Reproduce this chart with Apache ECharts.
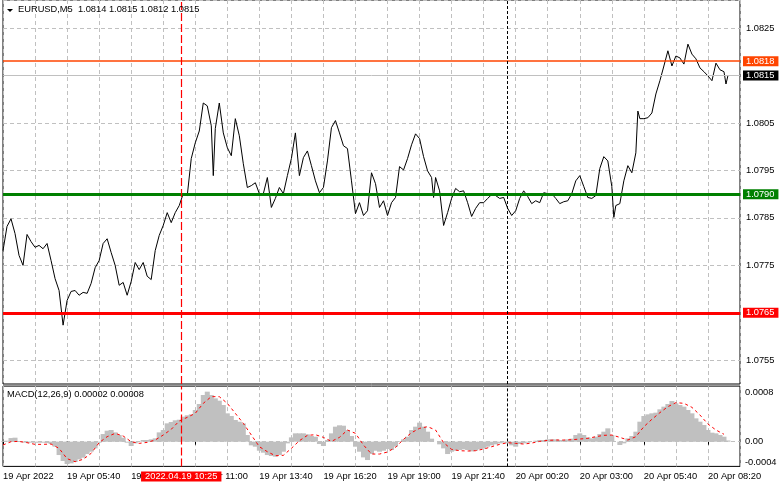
<!DOCTYPE html>
<html><head><meta charset="utf-8">
<script src="https://cdn.jsdelivr.net/npm/echarts@6/dist/echarts.min.js"></script>
<style>html,body{margin:0;padding:0;background:#fff}#c{width:781px;height:489px}</style>
</head><body><div id="c"></div>
<script>
// ---- data ----
const symbolTitle = 'EURUSD,M5  1.0814 1.0815 1.0812 1.0815';
const macdTitle = 'MACD(12,26,9) 0.00002 0.00008';
const barCount = 369;              // 5-minute bars, 19 Apr 03:00 ...
const closeStep = 2;               // closes read every 2 bars (10 min)
const closes = [
1.07781,1.07832,1.07848,1.07817,1.07771,1.07750,1.07815,1.07800,1.07788,1.07792,
1.07785,1.07796,1.07760,1.07722,1.07697,1.07624,1.07676,1.07695,1.07697,1.07687,
1.07693,1.07691,1.07712,1.07745,1.07760,1.07796,1.07806,1.07777,1.07750,1.07708,
1.07714,1.07687,1.07716,1.07756,1.07741,1.07756,1.07727,1.07720,1.07781,1.07813,
1.07834,1.07861,1.07840,1.07861,1.07876,1.07901,1.07897,1.07975,1.08008,1.08033,
1.08092,1.08086,1.08044,1.08038,1.08092,1.08029,1.07998,1.07981,1.08059,1.08023,
1.07964,1.07914,1.07918,1.07924,1.07901,1.07901,1.07935,1.07872,1.07891,1.07914,
1.07901,1.07939,1.07975,1.08029,1.07939,1.07977,1.07991,1.07960,1.07928,1.07903,
1.07914,1.07970,1.08040,1.08055,1.08029,1.08002,1.07996,1.07928,1.07859,1.07882,
1.07855,1.07865,1.07945,1.07922,1.07872,1.07886,1.07855,1.07882,1.07893,1.07958,
1.07951,1.07975,1.08004,1.08027,1.08017,1.07979,1.07949,1.07935,1.07935,1.07907,
1.07834,1.07861,1.07891,1.07912,1.07905,1.07907,1.07882,1.07853,1.07870,1.07882,
1.07882,1.07891,1.07899,1.07897,1.07891,1.07893,1.07870,1.07855,1.07865,1.07891,
1.07907,1.07895,1.07880,1.07886,1.07882,1.07903,1.07901,1.07901,1.07891,1.07880,
1.07884,1.07886,1.07901,1.07928,1.07939,1.07916,1.07893,1.07891,1.07897,1.07954,
1.07979,1.07970,1.07916,1.07876,1.07880,1.07928,1.07960,1.07945,1.07987,1.08059,
1.08059,1.08061,1.08071,1.08111,1.08139,1.08170,1.08202,1.08170,1.08191,1.08187,
1.08174,1.08216,1.08195,1.08185,1.08166,1.08158,1.08149,1.08139,1.08176,1.08162,
1.08158,1.08150];
// single-bar spikes read between the 10-minute samples: [bar index, close]
const closeSpikes = [[105, 1.07939], [215, 1.07893], [305, 1.07851], [317, 1.08075], [361, 1.08132]];
const histStep = 2;
const macdHist = [
0.000011,0.000016,0.000059,0.000065,0.000011,-0.000011,-0.000016,-0.000016,-0.000016,-0.000016,
-0.000016,-0.000022,-0.000038,-0.000081,-0.000216,-0.000313,-0.000362,-0.000351,-0.000329,-0.000286,
-0.000259,-0.000200,-0.000162,-0.000108,-0.000016,0.000124,0.000178,0.000189,0.000151,0.000108,
0.000065,-0.000016,-0.000070,-0.000027,-0.000005,0.000027,0.000027,0.000038,0.000054,0.000151,
0.000189,0.000297,0.000319,0.000346,0.000356,0.000405,0.000427,0.000443,0.000513,0.000610,
0.000756,0.000810,0.000756,0.000702,0.000664,0.000594,0.000459,0.000416,0.000351,0.000324,
0.000297,0.000108,-0.000059,-0.000081,-0.000146,-0.000178,-0.000216,-0.000232,-0.000243,-0.000216,
-0.000162,-0.000027,0.000070,0.000135,0.000135,0.000135,0.000119,0.000092,0.000081,-0.000038,
-0.000070,0.000027,0.000135,0.000243,0.000265,0.000259,0.000189,0.000092,-0.000081,-0.000162,
-0.000254,-0.000297,-0.000200,-0.000146,-0.000162,-0.000146,-0.000119,-0.000135,-0.000081,0.000011,
0.000038,0.000081,0.000189,0.000243,0.000308,0.000243,0.000162,0.000049,0.000000,-0.000043,
-0.000108,-0.000200,-0.000162,-0.000146,-0.000135,-0.000124,-0.000135,-0.000157,-0.000146,-0.000124,
-0.000113,-0.000081,-0.000059,-0.000043,-0.000027,-0.000016,-0.000027,-0.000059,-0.000081,-0.000038,
-0.000027,-0.000016,0.000000,0.000016,0.000027,0.000027,0.000038,0.000038,0.000038,0.000027,
0.000027,0.000038,0.000049,0.000108,0.000135,0.000108,0.000070,0.000054,0.000081,0.000124,
0.000162,0.000216,0.000108,0.000000,-0.000054,-0.000027,0.000054,0.000092,0.000162,0.000324,
0.000416,0.000443,0.000459,0.000470,0.000524,0.000567,0.000610,0.000659,0.000621,0.000594,
0.000567,0.000513,0.000459,0.000378,0.000324,0.000270,0.000189,0.000146,0.000135,0.000108,
0.000081,0.000020];
const signalStep = 4;
const macdSignal = [
-0.000054,0.000000,0.000005,-0.000016,-0.000043,-0.000043,-0.000038,-0.000108,-0.000275,-0.000324,
-0.000286,-0.000189,-0.000016,0.000081,0.000135,0.000092,0.000000,-0.000027,-0.000011,0.000027,
0.000108,0.000200,0.000335,0.000394,0.000459,0.000621,0.000729,0.000729,0.000621,0.000459,
0.000297,0.000108,-0.000081,-0.000162,-0.000227,-0.000221,-0.000108,0.000016,0.000103,0.000113,
0.000070,0.000005,0.000070,0.000189,0.000135,-0.000054,-0.000200,-0.000200,-0.000167,-0.000092,
0.000038,0.000146,0.000216,0.000243,0.000189,-0.000016,-0.000124,-0.000146,-0.000151,-0.000146,
-0.000119,-0.000081,-0.000043,-0.000016,-0.000027,-0.000038,-0.000022,0.000005,0.000022,0.000027,
0.000027,0.000032,0.000043,0.000054,0.000081,0.000103,0.000108,0.000070,0.000027,0.000081,
0.000243,0.000362,0.000470,0.000567,0.000632,0.000621,0.000556,0.000432,0.000286,0.000189,
0.000120];
const tickLabels = ['19 Apr 2022','19 Apr 05:40','19 Apr 08:20','19 Apr 11:00','19 Apr 13:40','19 Apr 16:20',
  '19 Apr 19:00','19 Apr 21:40','20 Apr 00:20','20 Apr 03:00','20 Apr 05:40','20 Apr 08:20'];
const labelEvery = 32, gridEvery = 16;
const levelResist = 1.0818, levelBid = 1.0815, levelSupport = 1.0790, levelLow = 1.0765;
const crossBar = 89, crossText = '2022.04.19 10:25';
const separatorBar = 252;

// ---- chart ----
const FONT = 'Liberation Sans';
const FS = 9.3;
const cats = [];
for (let i = 0; i < barCount; i++) {
  const m = 180 + i * 5; const d = 19 + Math.floor(m / 1440); const mm = m % 1440;
  cats.push(d + ' Apr ' + String(Math.floor(mm / 60)).padStart(2, '0') + ':' + String(mm % 60).padStart(2, '0'));
}
const closeData = closes.map((v, k) => [k * closeStep, v]).concat(closeSpikes).sort((a, b) => a[0] - b[0]);
const GRID_L = 3, GRID_R = 41;
const dash = [4, 3];
const txt = { fontFamily: FONT, fontSize: FS, color: '#000' };
function levelLabel(bg) {
  return { show: true, position: 'end', distance: 3, formatter: p => Number(p.value).toFixed(4),
    backgroundColor: bg, color: '#fff', fontFamily: FONT, fontSize: FS, padding: [1, 4, 0, 3] };
}
function vLine(color, type, width) {
  return { show: true, symbol: ['none', 'none'], silent: true, animation: false, precision: 5,
    lineStyle: { color: color, width: width, type: type } };
}
const hiddenPriceLabels = [10815, 10765];
const option = {
  animation: false,
  backgroundColor: '#fff',
  title: [
    { text: symbolTitle, left: 18, top: 5, padding: 0, textStyle: Object.assign({ fontWeight: 'normal' }, txt) },
    { text: macdTitle, left: 7, top: 390, padding: 0, textStyle: Object.assign({ fontWeight: 'normal' }, txt) }
  ],
  graphic: [{ type: 'polygon', shape: { points: [[7, 9], [13, 9], [10, 12]] }, style: { fill: '#000' } }],
  grid: [
    { left: GRID_L, right: GRID_R, top: -1, height: 385, show: true, borderColor: '#000', borderWidth: 1 },
    { left: GRID_L, right: GRID_R, top: 386.1, height: 80.3, show: true, borderColor: '#000', borderWidth: 1 }
  ],
  xAxis: [
    { type: 'category', gridIndex: 0, data: cats, boundaryGap: false,
      axisLine: { show: false }, axisTick: { show: false }, axisLabel: { show: false },
      splitLine: { show: true, interval: i => i % gridEvery === 0, lineStyle: { color: '#c0c0c0', type: dash } } },
    { type: 'category', gridIndex: 1, data: cats, boundaryGap: false,
      axisLine: { show: false },
      axisTick: { show: true, interval: i => i % labelEvery === 0, length: 3, lineStyle: { color: '#000' } },
      axisLabel: Object.assign({ show: true, interval: i => i % labelEvery === 0, hideOverlap: false,
        formatter: (v, i) => tickLabels[Math.round(i / labelEvery)] || '', align: 'left', margin: 6 }, txt),
      splitLine: { show: true, interval: i => i % gridEvery === 0, lineStyle: { color: '#c0c0c0', type: dash } } }
  ],
  yAxis: [
    { type: 'value', gridIndex: 0, position: 'right', min: 1.0750, max: 1.08309, interval: 0.0005,
      axisLine: { show: false }, axisTick: { show: false },
      axisLabel: Object.assign({ margin: 6, showMaxLabel: false, showMinLabel: false,
        formatter: v => { const t = Math.round(v * 10000); return (t % 10 === 5 && hiddenPriceLabels.indexOf(t) < 0) ? v.toFixed(4) : ''; } }, txt),
      splitLine: { show: true, lineStyle: { color: ['transparent', '#c0c0c0'], type: dash } } },
    { type: 'value', gridIndex: 1, position: 'right', min: -0.0004, max: 0.0009, interval: 0.0004,
      axisLine: { show: false }, axisTick: { show: false },
      axisLabel: Object.assign({ margin: 5, showMaxLabel: false,
        formatter: v => { const t = Math.round(v * 100000); return t === 80 ? '0.0008' : t === 0 ? '0.00' : t === -40 ? '{b|-0.0004}' : ''; },
        rich: { b: { fontFamily: FONT, fontSize: FS, color: '#000', padding: [0, 0, 7, 0] } } }, txt),
      splitLine: { show: true, lineStyle: { color: ['transparent', '#c0c0c0', 'transparent', 'transparent', 'transparent'], type: dash } } }
  ],
  series: [
    { name: 'close', type: 'line', xAxisIndex: 0, yAxisIndex: 0, showSymbol: false, z: 3,
      data: closeData,
      lineStyle: { color: '#000', width: 1 },
      markLine: { silent: true, symbol: ['none', 'none'], animation: false, precision: 5,
        data: [
          { yAxis: levelResist, lineStyle: { color: '#FF4500', width: 1.6, type: 'solid' }, label: levelLabel('#FF4500') },
          { yAxis: levelBid, lineStyle: { color: '#C0C0C0', width: 1, type: 'solid' }, label: levelLabel('#000000') },
          { yAxis: levelSupport, lineStyle: { color: '#008000', width: 3, type: 'solid' }, label: levelLabel('#008000') },
          { yAxis: levelLow, lineStyle: { color: '#FF0000', width: 3, type: 'solid' }, label: levelLabel('#FF0000') }
        ] } },
    // carriers for the vertical marker lines of the price panel
    { name: 'crossMain', type: 'line', xAxisIndex: 0, yAxisIndex: 0, data: [], silent: true,
      markLine: Object.assign(vLine('#FF0000', [8, 3], 1.2), { data: [{ xAxis: cats[crossBar], label: { show: false } }] }) },
    { name: 'sepMain', type: 'line', xAxisIndex: 0, yAxisIndex: 0, data: [], silent: true,
      markLine: Object.assign(vLine('#000000', [3, 2], 1), { data: [{ xAxis: cats[separatorBar], label: { show: false } }] }) },
    { name: 'MACD', type: 'bar', xAxisIndex: 1, yAxisIndex: 1, barWidth: 5, z: 2,
      data: macdHist.map((v, k) => [k * histStep, v]),
      itemStyle: { color: '#C0C0C0' } },
    { name: 'Signal', type: 'line', xAxisIndex: 1, yAxisIndex: 1, showSymbol: false, z: 4,
      data: macdSignal.map((v, j) => [j * signalStep, v]),
      lineStyle: { color: '#FF0000', width: 1, type: [3, 3] } },
    { name: 'crossSub', type: 'line', xAxisIndex: 1, yAxisIndex: 1, data: [], silent: true,
      markLine: Object.assign(vLine('#FF0000', [8, 3], 1.2), { data: [{ xAxis: cats[crossBar],
        label: { show: true, position: 'start', distance: 5, formatter: crossText, backgroundColor: '#FF0000',
          color: '#fff', fontFamily: FONT, fontSize: FS, padding: [1, 4, 0, 4] } }] }) },
    { name: 'sepSub', type: 'line', xAxisIndex: 1, yAxisIndex: 1, data: [], silent: true,
      markLine: Object.assign(vLine('#000000', [3, 2], 1), { data: [{ xAxis: cats[separatorBar], label: { show: false } }] }) }
  ]
};
const chart = echarts.init(document.getElementById('c'), null, { renderer: 'canvas' });
chart.setOption(option);
</script></body></html>
